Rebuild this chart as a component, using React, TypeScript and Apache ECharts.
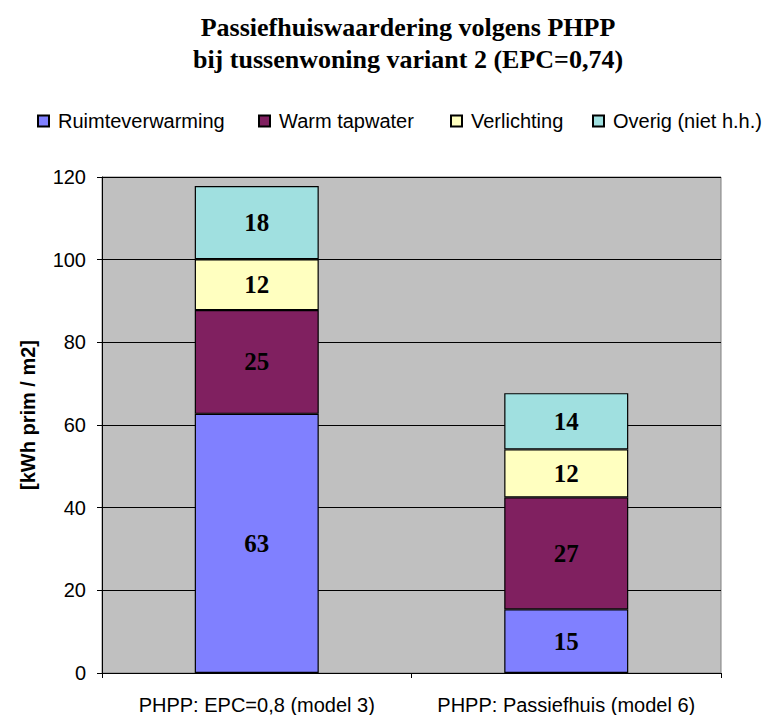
import React, { useEffect, useRef } from "react";
import * as echarts from "echarts";

const categories = ["PHPP: EPC=0,8 (model 3)", "PHPP: Passiefhuis (model 6)"];
const seriesNames = ["Ruimteverwarming", "Warm tapwater", "Verlichting", "Overig (niet h.h.)"];
const ruimteverwarming = [62.7, 15.4];
const warmTapwater = [25.1, 27.1];
const verlichting = [12.3, 11.6];
const overig = [17.7, 13.6];
const yTicks = { min: 0, max: 120, interval: 20 };
const colors = ["#8080FF", "#802060", "#FFFFC0", "#A0E0E0"];

export default function App() {
  const ref = useRef<HTMLDivElement>(null);
  useEffect(() => {
    if (!ref.current) return;
    const chart = echarts.init(ref.current, null, { renderer: "svg" });
    const values = [ruimteverwarming, warmTapwater, verlichting, overig];
    const legendLefts = [37, 258, 450, 592];
    const option: any = {
      animation: false,
      backgroundColor: "#FFFFFF",
      title: {
        text: "Passiefhuiswaardering volgens PHPP\nbij tussenwoning variant 2 (EPC=0,74)",
        left: 408,
        textAlign: "center",
        top: 11,
        padding: 0,
        textStyle: {
          fontFamily: "Liberation Serif",
          fontWeight: "bold",
          fontSize: 26,
          lineHeight: 32,
          color: "#000",
        },
      },
      legend: seriesNames.map((n, i) => ({
        data: [n],
        left: legendLefts[i],
        top: 111,
        padding: 0,
        icon: "rect",
        itemWidth: 11,
        itemHeight: 11,
        textStyle: {
          fontFamily: "Liberation Sans",
          fontSize: 20,
          color: "#000",
          padding: [0, 0, 0, 4],
        },
      })),
      grid: {
        left: 102,
        right: 54,
        top: 177,
        bottom: 42,
        show: true,
        backgroundColor: "#C0C0C0",
        borderColor: "#808080",
        borderWidth: 1,
      },
      xAxis: {
        type: "category",
        data: categories,
        axisLine: { lineStyle: { color: "#000", width: 1 } },
        axisTick: { show: true, length: 5, lineStyle: { color: "#000" } },
        axisLabel: {
          interval: 0,
          fontFamily: "Liberation Sans",
          fontSize: 20,
          color: "#000",
          margin: 22,
        },
      },
      yAxis: {
        type: "value",
        min: yTicks.min,
        max: yTicks.max,
        interval: yTicks.interval,
        axisLine: { show: true, lineStyle: { color: "#000", width: 1 } },
        axisTick: { show: true, length: 5, lineStyle: { color: "#000" } },
        splitLine: { show: true, lineStyle: { color: "#000", width: 1 } },
        axisLabel: {
          fontFamily: "Liberation Sans",
          fontSize: 20,
          color: "#000",
          margin: 16,
        },
      },
      graphic: [
        {
          type: "text",
          x: 28,
          y: 415,
          rotation: Math.PI / 2,
          style: {
            text: "[kWh prim / m2]",
            fontFamily: "Liberation Sans",
            fontWeight: "bold",
            fontSize: 20,
            fill: "#000",
            textAlign: "center",
            textVerticalAlign: "middle",
          },
        },
      ],
      series: seriesNames.map((n, i) => ({
        name: n,
        type: "bar",
        stack: "total",
        barWidth: 124,
        data: values[i],
        itemStyle: { color: colors[i], borderColor: "#000", borderWidth: 1.2 },
        label: {
          show: true,
          position: "inside",
          formatter: (p: any) => String(Math.round(p.value)),
          fontFamily: "Liberation Serif",
          fontWeight: "bold",
          fontSize: 25,
          color: "#000",
        },
      })),
    };
    chart.setOption(option);
    return () => chart.dispose();
  }, []);
  return (
    <div
      ref={ref}
      style={{ position: "fixed", left: 0, top: 0, width: 775, height: 715 }}
    />
  );
}
